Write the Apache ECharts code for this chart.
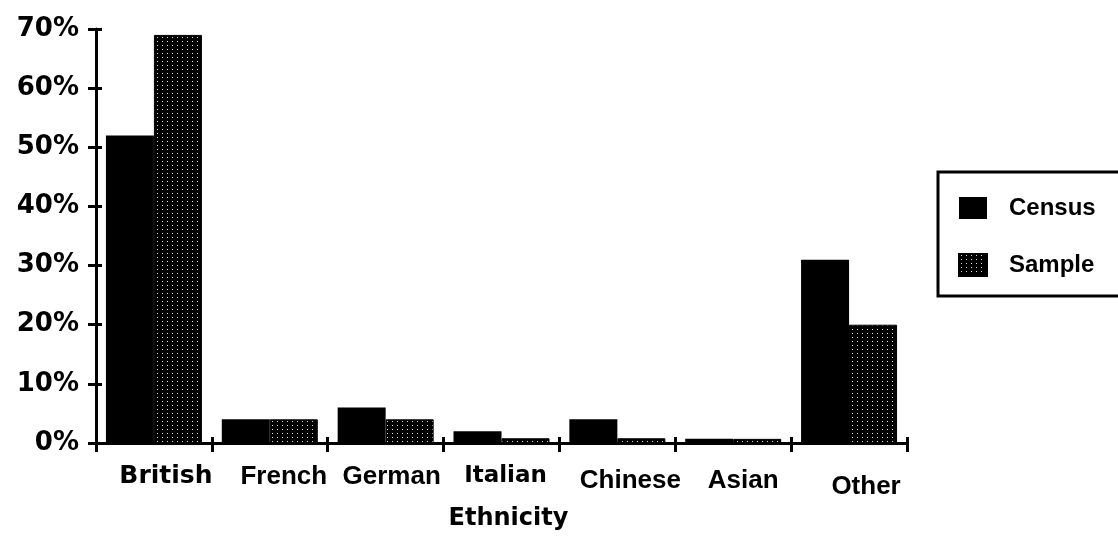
<!DOCTYPE html>
<html>
<head>
<meta charset="utf-8">
<script src="https://cdn.jsdelivr.net/npm/echarts@6/dist/echarts.min.js"></script>
<style>
  html, body { margin: 0; padding: 0; background: #fff; }
  #chart { width: 1118px; height: 536px; }
</style>
</head>
<body>
<div id="chart"></div>
<script>
// Ethnic make-up: census population vs. survey sample (percent)
const categories = ['British', 'French', 'German', 'Italian', 'Chinese', 'Asian', 'Other'];
const censusValues = [52, 4, 6, 2, 4, 0.7, 31];
const sampleValues = [69, 4, 4, 0.8, 0.8, 0.7, 20];
const yTicks = [0, 10, 20, 30, 40, 50, 60, 70];

// Black fill with a fine grid of light dots for the sample bars
function dotPattern() {
  const c = document.createElement('canvas');
  c.width = 5; c.height = 4;
  const g = c.getContext('2d');
  g.fillStyle = '#000';
  g.fillRect(0, 0, 5, 4);
  g.fillStyle = '#d8d8d8';
  g.fillRect(2, 1, 1, 1);
  return c;
}
const sampleFill = { image: dotPattern(), repeat: 'repeat' };

const ink = '#000';
const wide = { fontFamily: 'DejaVu Sans', fontWeight: 'bold', color: ink };
const plain = { fontFamily: 'Liberation Sans', fontWeight: 'bold', fontSize: 26, color: ink };

// Per-category label styles (typeface and hand-set placement under each group)
const labelRich = {
  British: Object.assign({}, wide, { fontSize: 25, padding: [0, 0, 0, 24] }),
  French: Object.assign({}, plain, { padding: [0, 0, 0, 28] }),
  German: Object.assign({}, plain, { padding: [0, 0, 0, 12] }),
  Italian: Object.assign({}, wide, { fontSize: 23, padding: [1, 0, 0, 8] }),
  Chinese: Object.assign({}, plain, { padding: [4, 0, 0, 26] }),
  Asian: Object.assign({}, plain, { padding: [4, 0, 0, 20] }),
  Other: Object.assign({}, plain, { padding: [10, 0, 0, 34] })
};

const chart = echarts.init(document.getElementById('chart'), null, { renderer: 'canvas' });

chart.setOption({
  animation: false,
  backgroundColor: '#fff',
  grid: { left: 96, right: 211, top: 29, bottom: 93, containLabel: false, outerBoundsMode: 'none' },
  legend: {
    left: 938, top: 172,
    orient: 'vertical',
    itemWidth: 28, itemHeight: 22, itemGap: 33,
    padding: [24, 60, 19, 20],
    borderColor: ink, borderWidth: 3,
    icon: 'rect',
    textStyle: { fontFamily: 'Liberation Sans', fontWeight: 'bold', fontSize: 24, color: ink, padding: [0, 0, 0, 17] },
    data: ['Census', 'Sample']
  },
  xAxis: [{
    type: 'category',
    data: categories,
    name: 'Ethnicity',
    nameLocation: 'middle',
    nameGap: 64,
    nameTextStyle: { fontFamily: 'DejaVu Sans', fontWeight: 'bold', fontSize: 24, color: ink, padding: [0, 0, 0, 14] },
    axisLine: { lineStyle: { color: ink, width: 3 } },
    axisTick: { show: true, interval: 0, length: 9, lineStyle: { color: ink, width: 3 } },
    axisLabel: {
      interval: 0,
      hideOverlap: false,
      margin: 21,
      color: ink,
      formatter: function (v) { return '{' + v + '|' + v + '}'; },
      rich: labelRich
    }
  }, {
    type: 'category',
    data: categories,
    position: 'bottom',
    offset: -6,
    axisLine: { show: false },
    axisTick: { show: true, interval: 0, length: 6, lineStyle: { color: ink, width: 3 } },
    axisLabel: { show: false }
  }],
  yAxis: [{
    type: 'value',
    min: 0, max: 70, interval: 10,
    splitLine: { show: false },
    axisLine: { show: true, lineStyle: { color: ink, width: 3 } },
    axisTick: { show: true, length: 8, lineStyle: { color: ink, width: 3 } },
    axisLabel: {
      margin: 17,
      color: ink,
      fontFamily: 'DejaVu Sans', fontWeight: 'bold', fontSize: 26,
      formatter: function (v) { return yTicks.indexOf(v) >= 0 ? v + '%' : ''; }
    }
  }, {
    type: 'value',
    position: 'left',
    offset: -6,
    min: 0, max: 70, interval: 10,
    splitLine: { show: false },
    axisLine: { show: false },
    axisTick: { show: true, length: 6, lineStyle: { color: ink, width: 3 } },
    axisLabel: { show: false }
  }],
  series: [{
    name: 'Census',
    type: 'bar',
    data: censusValues,
    barWidth: 48,
    barGap: '0%',
    itemStyle: { color: ink },
    z: 1
  }, {
    name: 'Sample',
    type: 'bar',
    data: sampleValues,
    barWidth: 48,
    barGap: '0%',
    itemStyle: { color: sampleFill, borderColor: ink, borderWidth: 1 },
    z: 1
  }]
});
</script>
</body>
</html>
